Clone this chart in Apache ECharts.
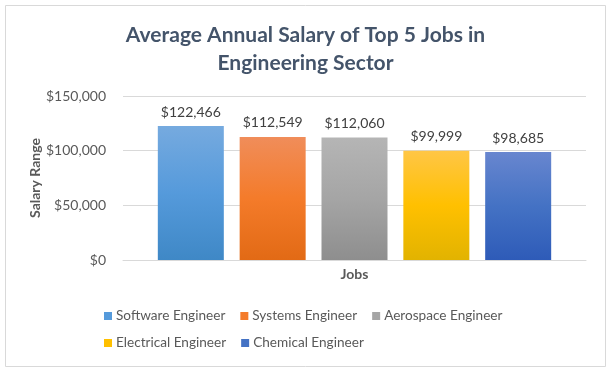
<!DOCTYPE html>
<html>
<head>
<meta charset="utf-8">
<script src="https://cdn.jsdelivr.net/npm/echarts@6/dist/echarts.min.js"></script>
<style>html,body{margin:0;padding:0;background:#fff;}#c{width:611px;height:370px;}</style>
</head>
<body>
<div id="c"></div>
<script>
const titleText = 'Average Annual Salary of Top 5 Jobs in\nEngineering Sector';
const categories = ['Jobs'];
const jobs = ['Software Engineer', 'Systems Engineer', 'Aerospace Engineer', 'Electrical Engineer', 'Chemical Engineer'];
const salaries = [122466, 112549, 112060, 99999, 98685];
const yTicks = [0, 50000, 100000, 150000];
const gradients = [
  ['#76AADF', '#559ADB', '#3F88C6'],
  ['#F08D5A', '#F47B2A', '#E26A15'],
  ['#B5B5B5', '#A5A5A5', '#8E8E8E'],
  ['#FFC646', '#FFC000', '#E2B300'],
  ['#6886CF', '#4472C4', '#2E5BB8']
];
const FONT = 'Lato';
const fmt = v => '$' + v.toLocaleString('en-US');

const chart = echarts.init(document.getElementById('c'), null, {renderer: 'canvas'});
const series = jobs.map((name, i) => ({
  name: name,
  type: 'bar',
  data: [salaries[i]],
  barWidth: 66,
  barGap: '24%',
  itemStyle: {
    color: new echarts.graphic.LinearGradient(0, 0, 0, 1, [
      {offset: 0, color: gradients[i][0]},
      {offset: 0.5, color: gradients[i][1]},
      {offset: 1, color: gradients[i][2]}
    ])
  },
  label: {
    show: true,
    position: 'top',
    distance: 7,
    formatter: p => fmt(p.value),
    fontFamily: FONT,
    fontSize: 14,
    color: '#404040'
  }
}));

const legendBase = {
  left: 104,
  padding: 0,
  itemWidth: 8,
  itemHeight: 8,
  itemGap: 15,
  icon: 'rect',
  orient: 'horizontal',
  textStyle: {fontFamily: FONT, fontSize: 13.6, color: '#595959', padding: [0, 0, 0, -1]}
};

chart.setOption({
  animation: false,
  backgroundColor: '#fff',
  graphic: [{
    type: 'rect',
    shape: {x: 5.5, y: 5.5, width: 600, height: 361},
    style: {fill: 'none', stroke: '#D9D9D9', lineWidth: 1},
    silent: true
  }],
  title: {
    text: titleText,
    left: 'center',
    top: 16,
    textStyle: {fontFamily: FONT, fontSize: 21, fontWeight: 'bold', color: '#44546A', lineHeight: 28}
  },
  legend: [
    Object.assign({}, legendBase, {
      top: 309,
      data: jobs.slice(0, 3).map((n, i) => ({name: n, itemStyle: {color: gradients[i][1]}}))
    }),
    Object.assign({}, legendBase, {
      top: 336,
      data: jobs.slice(3).map((n, i) => ({name: n, itemStyle: {color: gradients[i + 3][1]}}))
    })
  ],
  grid: {left: 123, right: 25, top: 96, bottom: 110, containLabel: false},
  xAxis: {
    type: 'category',
    data: categories,
    name: 'Jobs',
    nameLocation: 'middle',
    nameGap: 7,
    nameTextStyle: {fontFamily: FONT, fontSize: 14, fontWeight: 'bold', color: '#595959'},
    axisLine: {lineStyle: {color: '#D9D9D9'}},
    axisTick: {show: false},
    axisLabel: {show: false}
  },
  yAxis: {
    type: 'value',
    min: yTicks[0],
    max: yTicks[yTicks.length - 1],
    interval: yTicks[1] - yTicks[0],
    name: 'Salary Range',
    nameLocation: 'middle',
    nameGap: 81,
    nameMoveOverlap: false,
    nameTextStyle: {fontFamily: FONT, fontSize: 14, fontWeight: 'bold', color: '#595959'},
    axisLine: {show: false},
    axisTick: {show: false},
    splitLine: {lineStyle: {color: '#D9D9D9'}},
    axisLabel: {formatter: v => fmt(v), fontFamily: FONT, fontSize: 14, color: '#595959', margin: 17}
  },
  series: series
});
</script>
</body>
</html>
